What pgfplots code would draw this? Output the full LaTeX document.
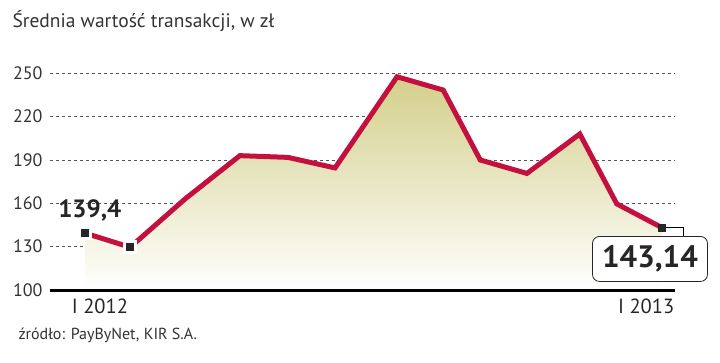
\documentclass[border=0pt]{standalone}
\usepackage{fontspec}
\setmainfont{PT Sans}
\usepackage{pgfplots}
\pgfplotsset{compat=1.18}
\definecolor{lineRed}{HTML}{C4103F}
\definecolor{fillTop}{HTML}{D3CF8A}
\definecolor{gridG}{HTML}{555555}
\definecolor{txt}{HTML}{333333}
\begin{document}
\begin{tikzpicture}[x=1pt,y=1pt]
\useasboundingbox (0,0) rectangle (720,362);
\node[anchor=base west, text=txt, font=\fontsize{19.5}{22}\selectfont] at (9,334) {Średnia wartość transakcji, w zł};
\node[anchor=base west, text=txt, font=\fontsize{16}{18}\selectfont] at (15,23) {źródło: PayByNet, KIR S.A.};
\begin{axis}[
  at={(50pt,72pt)}, anchor=south west,
  scale only axis, width=625pt, height=216.7pt,
  xmin=-0.728, xmax=12.27, ymin=100, ymax=250,
  clip=false,
  axis line style={draw=none},
  major tick length=0pt,
  ytick={100,130,160,190,220,250},
  xtick={0.31,11.67},
  xticklabels={I 2012, I 2013},
  /pgf/number format/assume math mode=true,
  yticklabel style={font=\fontsize{18}{20}\selectfont, text=txt, xshift=-4pt},
  xticklabel style={font=\fontsize{20.5}{22}\selectfont, text=black!85, yshift=-5pt},
  ymajorgrids,
  grid style={gridG, line width=0.8pt, dash pattern=on 3pt off 3pt},
]
\addplot[draw=none, top color=fillTop, bottom color=white] coordinates {
(0,139.4) (0.94,129.6) (2.08,163.0) (3.22,193.0) (4.22,191.8) (5.2,184.5)
(6.49,247.6) (7.45,238.4) (8.22,190.0) (9.19,180.7) (10.29,208.0) (11.06,159.6) (12,143.14)
} \closedcycle;
\draw[black, line width=3pt] (axis cs:-0.728,100) -- (axis cs:12.27,100);
\addplot[lineRed, line width=5pt] coordinates {
(0,139.4) (0.94,129.6) (2.08,163.0) (3.22,193.0) (4.22,191.8) (5.2,184.5)
(6.49,247.6) (7.45,238.4) (8.22,190.0) (9.19,180.7) (10.29,208.0) (11.06,159.6) (12,143.14)
};
\draw[black, line width=0.8pt] (axis cs:12,143.14) -- ++(21pt,0pt) -- ++(0pt,-12pt);
\addplot[white, only marks, mark=square*, mark size=6.5pt, mark options={fill=white, draw=white, line width=0pt}] coordinates {(0,139.4) (0.94,129.6)};
\addplot[black!85, only marks, mark=square*, mark size=3.6pt, mark options={fill=black!85, draw=black!85, line width=0pt}] coordinates {(0,139.4) (0.94,129.6) (12,143.14)};
\node[font=\bfseries\fontsize{25}{25}\selectfont, text=black!85] at (axis cs:0.1,155.4) {139,4};
\node[draw=black!85, line width=0.8pt, rounded corners=7pt, fill=white, minimum width=115pt, minimum height=45pt, font=\bfseries\fontsize{31}{31}\selectfont, text=black!85] at (axis cs:11.75,121.5) {143,14};
\end{axis}
\end{tikzpicture}
\end{document}
